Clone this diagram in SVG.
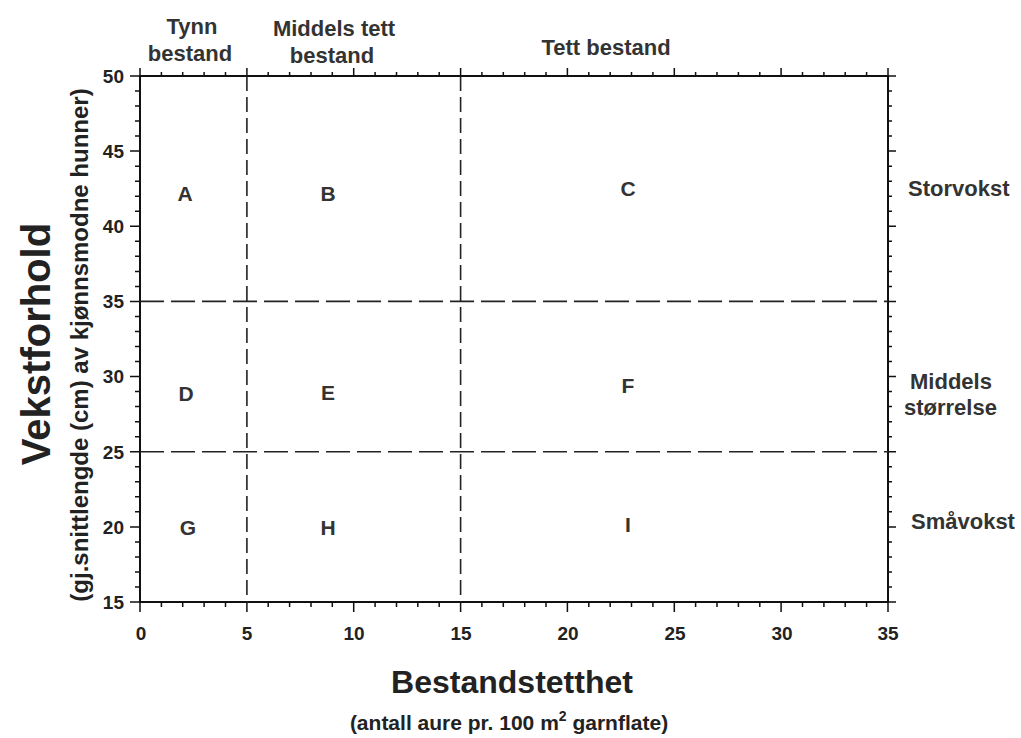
<svg xmlns="http://www.w3.org/2000/svg" width="1021" height="738" viewBox="0 0 1021 738">
<style>
text{font-family:"Liberation Sans",Arial,sans-serif;fill:#222}
.b{font-weight:bold}
.tick{font-size:19px;fill:#555;font-weight:bold}
.hd{font-size:22px;font-weight:bold;text-anchor:middle;fill:#333}
.cell{font-size:21px;font-weight:bold;text-anchor:middle;fill:#333}
.side{font-size:22px;font-weight:bold;fill:#333}
.ax{stroke:#111;stroke-width:2;fill:none}
.tk{stroke:#111;stroke-width:1.5;fill:none}
.dv{stroke:#222;stroke-width:1.6;stroke-dasharray:15 6;fill:none}
.dh{stroke:#222;stroke-width:1.6;stroke-dasharray:24 7;fill:none}
</style>
<rect width="1021" height="738" fill="#fff"/>
<g id="connectors">
<rect class="ax" x="140" y="76" width="748" height="526"/>
<path class="ax" d="M212 76H253" stroke-width="3"/>
<g id="ticks-bottom" class="tk">
<path d="M140 602v10M161.4 602v5M182.7 602v5M204.1 602v5M225.5 602v5M246.9 602v10M268.2 602v5M289.6 602v5M311 602v5M332.3 602v5M353.7 602v10M375.1 602v5M396.5 602v5M417.8 602v5M439.2 602v5M460.6 602v10M481.9 602v5M503.3 602v5M524.7 602v5M546 602v5M567.4 602v10M588.8 602v5M610.2 602v5M631.5 602v5M652.9 602v5M674.3 602v10M695.6 602v5M717 602v5M738.4 602v5M759.8 602v5M781.1 602v10M802.5 602v5M823.9 602v5M845.2 602v5M866.6 602v5M888 602v10"/>
</g>
<g id="ticks-top" class="tk">
<path d="M140 76v-8M161.4 76v-4M182.7 76v-4M204.1 76v-4M225.5 76v-4M246.9 76v-8M268.2 76v-4M289.6 76v-4M311 76v-4M332.3 76v-4M353.7 76v-8M375.1 76v-4M396.5 76v-4M417.8 76v-4M439.2 76v-4M460.6 76v-8M481.9 76v-4M503.3 76v-4M524.7 76v-4M546 76v-4M567.4 76v-8M588.8 76v-4M610.2 76v-4M631.5 76v-4M652.9 76v-4M674.3 76v-8M695.6 76v-4M717 76v-4M738.4 76v-4M759.8 76v-4M781.1 76v-8M802.5 76v-4M823.9 76v-4M845.2 76v-4M866.6 76v-4M888 76v-8"/>
</g>
<g id="ticks-left" class="tk">
<path d="M140 76h-10M140 91h-5M140 106.1h-5M140 121.1h-5M140 136.1h-5M140 151.1h-10M140 166.2h-5M140 181.2h-5M140 196.2h-5M140 211.3h-5M140 226.3h-10M140 241.3h-5M140 256.3h-5M140 271.4h-5M140 286.4h-5M140 301.4h-10M140 316.5h-5M140 331.5h-5M140 346.5h-5M140 361.5h-5M140 376.6h-10M140 391.6h-5M140 406.6h-5M140 421.7h-5M140 436.7h-5M140 451.7h-10M140 466.7h-5M140 481.8h-5M140 496.8h-5M140 511.8h-5M140 526.9h-10M140 541.9h-5M140 556.9h-5M140 571.9h-5M140 587h-5M140 602h-10"/>
</g>
<g id="ticks-right" class="tk">
<path d="M888 76h8M888 91h4M888 106.1h4M888 121.1h4M888 136.1h4M888 151.1h8M888 166.2h4M888 181.2h4M888 196.2h4M888 211.3h4M888 226.3h8M888 241.3h4M888 256.3h4M888 271.4h4M888 286.4h4M888 301.4h8M888 316.5h4M888 331.5h4M888 346.5h4M888 361.5h4M888 376.6h8M888 391.6h4M888 406.6h4M888 421.7h4M888 436.7h4M888 451.7h8M888 466.7h4M888 481.8h4M888 496.8h4M888 511.8h4M888 526.9h8M888 541.9h4M888 556.9h4M888 571.9h4M888 587h4M888 602h8"/>
</g>
<path class="dv" d="M246.9 76V602M460.6 76V602"/>
<path class="dh" d="M140 301.4H888M140 451.7H888"/>
</g>
<g id="y-ticklabels" class="tick" text-anchor="end">
<text x="124" y="83">50</text><text x="124" y="158">45</text><text x="124" y="233">40</text><text x="124" y="308">35</text><text x="124" y="383">30</text><text x="124" y="459">25</text><text x="124" y="534">20</text><text x="124" y="609">15</text>
</g>
<g id="x-ticklabels" class="tick" text-anchor="middle">
<text x="141" y="640">0</text><text x="247" y="640">5</text><text x="354" y="640">10</text><text x="461" y="640">15</text><text x="568" y="640">20</text><text x="675" y="640">25</text><text x="782" y="640">30</text><text x="888" y="640">35</text>
</g>
<g id="col-tynn"><text class="hd" x="192" y="34">Tynn</text><text class="hd" x="190" y="61">bestand</text></g>
<g id="col-middels"><text class="hd" x="334" y="36">Middels tett</text><text class="hd" x="332" y="63">bestand</text></g>
<g id="col-tett"><text class="hd" x="606" y="55">Tett bestand</text></g>
<g id="cell-A"><text class="cell" x="185" y="201">A</text></g>
<g id="cell-B"><text class="cell" x="328" y="201">B</text></g>
<g id="cell-C"><text class="cell" x="628" y="196">C</text></g>
<g id="cell-D"><text class="cell" x="186" y="401">D</text></g>
<g id="cell-E"><text class="cell" x="328" y="400">E</text></g>
<g id="cell-F"><text class="cell" x="628" y="393">F</text></g>
<g id="cell-G"><text class="cell" x="188" y="535">G</text></g>
<g id="cell-H"><text class="cell" x="328" y="535">H</text></g>
<g id="cell-I"><text class="cell" x="628" y="532">I</text></g>
<g id="row-storvokst"><text class="side" x="908" y="196">Storvokst</text></g>
<g id="row-middels"><text class="side" x="910" y="389">Middels</text><text class="side" x="904" y="415">størrelse</text></g>
<g id="row-smavokst"><text class="side" x="911" y="529">Småvokst</text></g>
<g id="y-title">
<text class="b" transform="translate(50,344) rotate(-90)" text-anchor="middle" font-size="40">Vekstforhold</text>
<text class="b" transform="translate(88,345) rotate(-90)" text-anchor="middle" font-size="24">(gj.snittlengde (cm) av kjønnsmodne hunner)</text>
</g>
<g id="x-title">
<text class="b" x="512" y="693" text-anchor="middle" font-size="32">Bestandstetthet</text>
<text class="b" x="509" y="730" text-anchor="middle" font-size="21">(antall aure pr. 100 m<tspan font-size="14" dy="-9">2</tspan><tspan dy="9"> garnflate)</tspan></text>
</g>
</svg>
